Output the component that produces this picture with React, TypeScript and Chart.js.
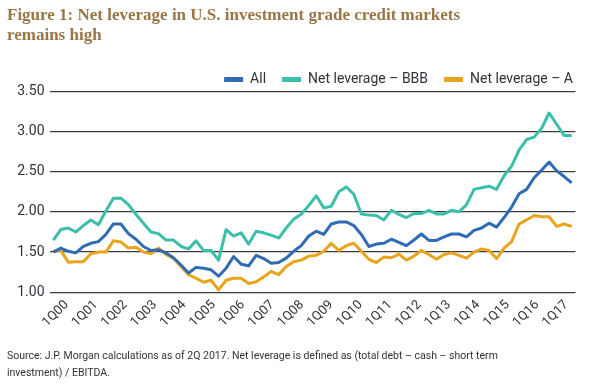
import { useEffect, useRef } from 'react';
import { Chart, registerables } from 'chart.js';

Chart.register(...registerables);

const QUARTERS = [
  '1Q00', '2Q00', '3Q00', '4Q00', '1Q01', '2Q01', '3Q01', '4Q01',
  '1Q02', '2Q02', '3Q02', '4Q02', '1Q03', '2Q03', '3Q03', '4Q03',
  '1Q04', '2Q04', '3Q04', '4Q04', '1Q05', '2Q05', '3Q05', '4Q05',
  '1Q06', '2Q06', '3Q06', '4Q06', '1Q07', '2Q07', '3Q07', '4Q07',
  '1Q08', '2Q08', '3Q08', '4Q08', '1Q09', '2Q09', '3Q09', '4Q09',
  '1Q10', '2Q10', '3Q10', '4Q10', '1Q11', '2Q11', '3Q11', '4Q11',
  '1Q12', '2Q12', '3Q12', '4Q12', '1Q13', '2Q13', '3Q13', '4Q13',
  '1Q14', '2Q14', '3Q14', '4Q14', '1Q15', '2Q15', '3Q15', '4Q15',
  '1Q16', '2Q16', '3Q16', '4Q16', '1Q17', '2Q17',
];

const YEAR_LABELS = [
  '1Q00', '1Q01', '1Q02', '1Q03', '1Q04', '1Q05', '1Q06', '1Q07', '1Q08',
  '1Q09', '1Q10', '1Q11', '1Q12', '1Q13', '1Q14', '1Q15', '1Q16', '1Q17',
];

const ALL = [
  1.50, 1.55, 1.51, 1.49, 1.57, 1.61, 1.63, 1.72,
  1.85, 1.85, 1.73, 1.66, 1.57, 1.52, 1.53, 1.49,
  1.43, 1.34, 1.24, 1.31, 1.30, 1.28, 1.20, 1.30,
  1.445, 1.35, 1.33, 1.46, 1.42, 1.36, 1.37, 1.425,
  1.51, 1.58, 1.70, 1.76, 1.72, 1.85, 1.875, 1.875,
  1.83, 1.72, 1.57, 1.60, 1.61, 1.66, 1.62, 1.58,
  1.65, 1.725, 1.645, 1.645, 1.69, 1.725, 1.725, 1.69,
  1.77, 1.80, 1.86, 1.81, 1.93, 2.06, 2.225, 2.28,
  2.425, 2.52, 2.62, 2.51, 2.44, 2.36,
];

const BBB = [
  1.65, 1.78, 1.80, 1.75, 1.83, 1.90, 1.84, 2.01,
  2.17, 2.17, 2.09, 1.97, 1.86, 1.75, 1.73, 1.65,
  1.65, 1.57, 1.54, 1.64, 1.52, 1.52, 1.40, 1.78,
  1.70, 1.74, 1.60, 1.76, 1.74, 1.71, 1.675, 1.80,
  1.91, 1.97, 2.08, 2.20, 2.05, 2.07, 2.25, 2.31,
  2.22, 1.975, 1.96, 1.955, 1.90, 2.02, 1.97, 1.93,
  1.98, 1.98, 2.02, 1.975, 1.975, 2.02, 2.00, 2.09,
  2.28, 2.30, 2.32, 2.28, 2.45, 2.57, 2.77, 2.90,
  2.93, 3.04, 3.23, 3.09, 2.95, 2.95,
];

const A = [
  1.51, 1.52, 1.375, 1.38, 1.38, 1.48, 1.50, 1.50,
  1.64, 1.625, 1.55, 1.56, 1.50, 1.48, 1.55, 1.47,
  1.42, 1.32, 1.22, 1.175, 1.125, 1.15, 1.03, 1.15,
  1.175, 1.175, 1.11, 1.13, 1.19, 1.26, 1.22, 1.32,
  1.38, 1.40, 1.45, 1.46, 1.51, 1.61, 1.52, 1.58,
  1.61, 1.51, 1.41, 1.37, 1.44, 1.43, 1.475, 1.40,
  1.45, 1.52, 1.47, 1.41, 1.47, 1.49, 1.46, 1.425,
  1.50, 1.54, 1.52, 1.42, 1.55, 1.63, 1.85, 1.90,
  1.955, 1.94, 1.94, 1.82, 1.85, 1.82,
];

const SERIES_NAMES = ['All', 'Net leverage \u2013 BBB', 'Net leverage \u2013 A'];
const COLORS = ['#2F6CB3', '#3CBFA9', '#EAA41B'];

const SANS = 'Roboto, "Noto Sans", sans-serif';
const TEXT = '#2f333a';

const LEGEND_H = 34.8;
const X_MIN = 1999.422;
const X_MAX = 2017.307;

export default function App() {
  const ref = useRef<HTMLCanvasElement | null>(null);

  useEffect(() => {
    const canvas = ref.current;
    if (!canvas) return;
    const legendFit = {
      id: 'legendFit',
      beforeInit(chart: any) {
        const lg = chart.legend;
        if (lg) {
          const fit = lg.fit;
          lg.fit = function () {
            fit.call(this);
            this.height = LEGEND_H;
          };
        }
      },
    };
    const chart = new Chart(canvas, {
      type: 'line',
      data: {
        labels: QUARTERS,
        datasets: [ALL, BBB, A].map((d, i) => ({
          label: SERIES_NAMES[i],
          data: d,
          borderColor: COLORS[i],
          backgroundColor: COLORS[i],
          borderWidth: 3,
          pointRadius: 0,
          pointHoverRadius: 0,
          tension: 0,
          borderJoinStyle: 'round' as const,
          fill: false,
        })),
      },
      options: {
        responsive: false,
        animation: false,
        events: [],
        layout: { padding: { top: 56.5, bottom: 50.7, left: 0, right: 0 } },
        plugins: {
          title: { display: false },
          tooltip: { enabled: false },
          legend: {
            display: true,
            position: 'top',
            align: 'end',
            labels: {
              boxWidth: 19,
              boxHeight: 5,
              padding: 16,
              color: TEXT,
              font: { family: SANS, size: 14 },
              generateLabels: (c: any) =>
                Chart.defaults.plugins.legend.labels
                  .generateLabels(c)
                  .map((l: any) => ({ ...l, lineWidth: 0 })),
            },
          },
        },
        scales: {
          x: {
            type: 'category',
            display: false,
            offset: true,
          },
          xl: {
            type: 'linear',
            position: 'bottom',
            min: X_MIN,
            max: X_MAX,
            grid: { display: false, drawTicks: false },
            border: { display: false },
            afterBuildTicks: (axis: any) => {
              axis.ticks = YEAR_LABELS.map((_, k) => ({ value: 2000 + k }));
            },
            afterFit: (s: any) => {
              s.height = 45;
            },
            ticks: {
              autoSkip: false,
              maxRotation: 45,
              minRotation: 45,
              padding: 5,
              color: TEXT,
              font: { family: SANS, size: 13 },
              callback: (_v: any, i: number) => YEAR_LABELS[i],
            },
          },
          y: {
            type: 'linear',
            position: 'left',
            min: 1,
            max: 3.5,
            grid: { color: '#3c3c3c', lineWidth: 1.3, drawTicks: false },
            border: { display: false },
            afterFit: (s: any) => {
              s.width = 49.54;
            },
            ticks: {
              stepSize: 0.5,
              padding: 5,
              color: TEXT,
              font: { family: SANS, size: 14 },
              callback: (v: any) => Number(v).toFixed(2),
            },
          },
          yR: {
            type: 'linear',
            position: 'right',
            display: true,
            grid: { display: false, drawTicks: false },
            border: { display: false },
            ticks: { display: false },
            afterFit: (s: any) => {
              s.width = 13.54;
            },
          },
        },
      } as any,
      plugins: [legendFit],
    });
    return () => chart.destroy();
  }, []);

  return (
    <div
      style={{
        position: 'fixed',
        left: 0,
        top: 0,
        width: 589,
        height: 388,
        background: '#fff',
        overflow: 'hidden',
      }}
    >
      <canvas
        ref={ref}
        width={589}
        height={388}
        style={{ position: 'absolute', left: 0, top: 0, width: 589, height: 388 }}
      />
      <div
        style={{
          position: 'absolute',
          left: 7,
          top: 5,
          font: 'bold 17px "Liberation Serif", "Times New Roman", serif',
          lineHeight: '20px',
          color: '#9A7646',
          whiteSpace: 'nowrap',
        }}
      >
        Figure 1: Net leverage in U.S. investment grade credit markets
        <br />
        remains high
      </div>
      <div
        style={{
          position: 'absolute',
          left: 7,
          top: 348,
          font: '10.5px ' + SANS,
          lineHeight: '16.5px',
          color: '#333',
          whiteSpace: 'nowrap',
        }}
      >
        Source: J.P. Morgan calculations as of 2Q 2017. Net leverage is defined as (total debt &ndash; cash &ndash; short term
        <br />
        investment) / EBITDA.
      </div>
    </div>
  );
}
